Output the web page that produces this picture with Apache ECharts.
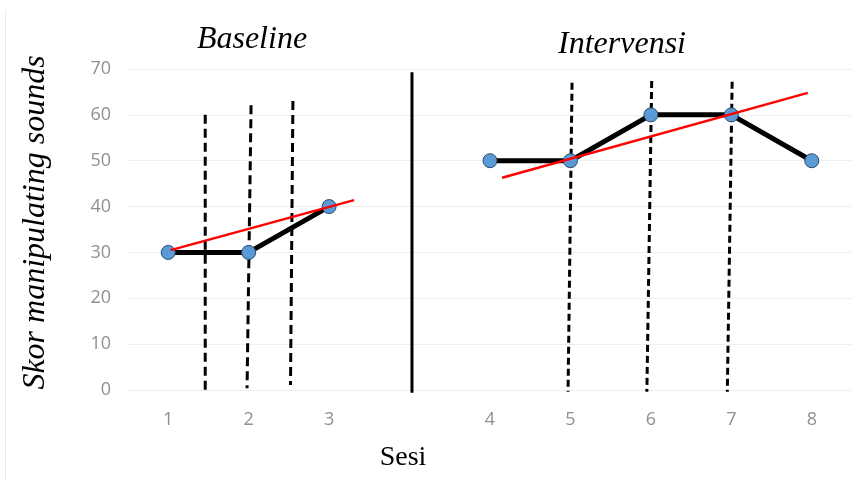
<!DOCTYPE html>
<html>
<head>
<meta charset="utf-8">
<script src="https://cdn.jsdelivr.net/npm/echarts@6/dist/echarts.min.js"></script>
<style>
html,body{margin:0;padding:0;background:#fff;}
#chart{width:866px;height:483px;}
</style>
</head>
<body>
<div id="chart"></div>
<script>
// Categories (empty slot = gap between phases)
var sessions = ['1', '2', '3', '', '4', '5', '6', '7', '8'];
var baselineSessions = ['1', '2', '3'];
var baselineScores = [30, 30, 40];
var intervensiSessions = ['4', '5', '6', '7', '8'];
var intervensiScores = [50, 50, 60, 60, 50];
var yTicks = [0, 10, 20, 30, 40, 50, 60, 70];

// Trend lines (x in slot units across the 9 slots, y score)
var trendBaseline = [[0.53, 30.5], [2.81, 41.4]];
var trendIntervensi = [[4.65, 46.3], [8.45, 64.8]];

// Hand-drawn phase markers [x, score] top and bottom
var dashBaseline = [
  [[0.96, 60.0], [0.96, -0.6]],
  [[1.53, 62.1], [1.48, 0.4]],
  [[2.05, 63.0], [2.02, 1.1]]
];
var phaseDivider = [[3.53, 69.3], [3.53, -0.6]];
var dashIntervensi = [
  [[5.52, 67.0], [5.47, -0.4]],
  [[6.51, 67.4], [6.45, -0.4]],
  [[7.51, 67.2], [7.45, -0.4]]
];

var chart = echarts.init(document.getElementById('chart'));

function pairs(cats, vals) {
  return cats.map(function (c, i) { return [c, vals[i]]; });
}

var markerStyle = { color: '#5b9bd5', borderColor: '#2b4a6e', borderWidth: 1 };
var series = [];

dashBaseline.forEach(function (d) {
  series.push({ type: 'line', xAxisIndex: 1, data: d, symbol: 'none', clip: false, silent: true,
    lineStyle: { color: '#000', width: 3, type: [9, 5] }, z: 3 });
});
series.push({ type: 'line', xAxisIndex: 1, data: phaseDivider, symbol: 'none', clip: false, silent: true,
  lineStyle: { color: '#000', width: 3 }, z: 3 });
dashIntervensi.forEach(function (d) {
  series.push({ type: 'line', xAxisIndex: 1, data: d, symbol: 'none', clip: false, silent: true,
    lineStyle: { color: '#000', width: 3, type: [7, 4] }, z: 3 });
});

series.push({ type: 'line', xAxisIndex: 0, data: pairs(baselineSessions, baselineScores),
  symbol: 'circle', symbolSize: 14, lineStyle: { color: '#000', width: 5 }, itemStyle: markerStyle, z: 4 });
series.push({ type: 'line', xAxisIndex: 0, data: pairs(intervensiSessions, intervensiScores),
  symbol: 'circle', symbolSize: 14, lineStyle: { color: '#000', width: 5 }, itemStyle: markerStyle, z: 4 });

series.push({ type: 'line', xAxisIndex: 1, data: trendBaseline, symbol: 'none', clip: false,
  lineStyle: { color: '#ff0000', width: 2.5 }, z: 6 });
series.push({ type: 'line', xAxisIndex: 1, data: trendIntervensi, symbol: 'none', clip: false,
  lineStyle: { color: '#ff0000', width: 2.5 }, z: 6 });

chart.setOption({
  animation: false,
  backgroundColor: '#fff',
  grid: { left: 128, right: 14, top: 69, bottom: 93 },
  xAxis: [
    {
      type: 'category', data: sessions, boundaryGap: true,
      axisLine: { show: false }, axisTick: { show: false }, splitLine: { show: false },
      axisLabel: { color: '#909090', fontSize: 18, fontFamily: 'Open Sans', margin: 21 }
    },
    { type: 'value', min: 0, max: 9, show: false }
  ],
  yAxis: {
    type: 'value', min: yTicks[0], max: yTicks[yTicks.length - 1], interval: 10,
    axisLine: { show: false }, axisTick: { show: false },
    splitLine: { lineStyle: { color: '#efefef', width: 1 } },
    axisLabel: { color: '#909090', fontSize: 18, fontFamily: 'Open Sans', margin: 17 },
    name: 'Skor manipulating sounds', nameLocation: 'middle', nameGap: 76,
    nameTextStyle: { fontFamily: 'Liberation Serif', fontStyle: 'italic', fontSize: 32, color: '#000',
      padding: [0, 0, 0, 14] }
  },
  graphic: [
    { type: 'line', shape: { x1: 5.5, y1: 10, x2: 5.5, y2: 480 }, style: { stroke: '#eaeaea', lineWidth: 1 } },
    { type: 'text', x: 252, y: 40, style: { text: 'Baseline', fontFamily: 'Liberation Serif', fontStyle: 'italic',
      fontSize: 32, fill: '#000', textAlign: 'center', textVerticalAlign: 'middle' } },
    { type: 'text', x: 622, y: 45, style: { text: 'Intervensi', fontFamily: 'Liberation Serif', fontStyle: 'italic',
      fontSize: 32, fill: '#000', textAlign: 'center', textVerticalAlign: 'middle' } },
    { type: 'text', x: 403, y: 458, style: { text: 'Sesi', fontFamily: 'Liberation Serif',
      fontSize: 28, fill: '#000', textAlign: 'center', textVerticalAlign: 'middle' } }
  ],
  series: series
});
</script>
</body>
</html>
